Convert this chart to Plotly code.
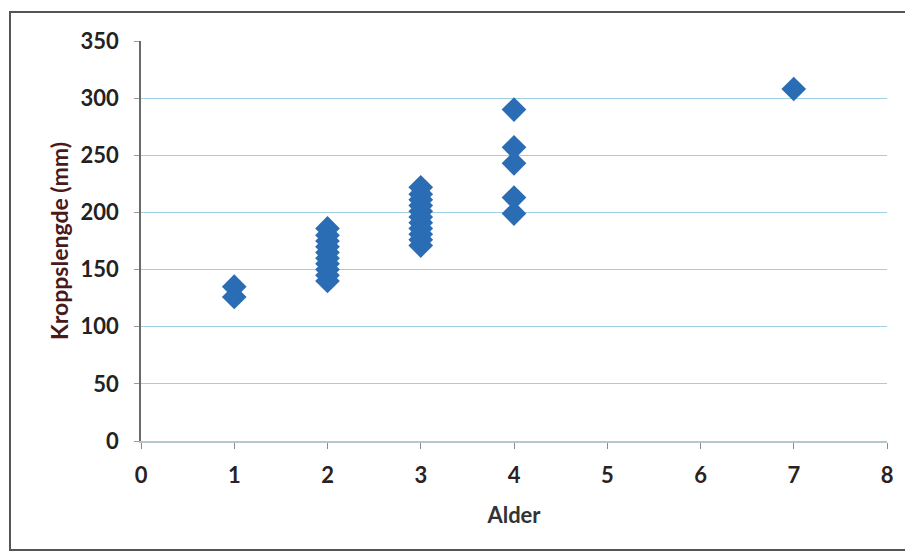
import plotly.graph_objects as go

# Alder (years) and Kroppslengde (mm)
alder = [1, 1,
         2, 2, 2, 2, 2, 2, 2, 2, 2, 2,
         3, 3, 3, 3, 3, 3, 3, 3, 3, 3, 3,
         4, 4, 4, 4, 4,
         7]
kroppslengde = [135, 126,
                140, 145, 150, 155, 160, 165, 170, 175, 180, 186,
                171, 176, 181, 186, 191, 196, 201, 206, 211, 216, 222,
                290, 257, 243, 213, 199,
                308]

x_ticks = [0, 1, 2, 3, 4, 5, 6, 7, 8]
y_ticks = [0, 50, 100, 150, 200, 250, 300, 350]

FONT = "Lato, 'Open Sans', sans-serif"

fig = go.Figure()

fig.add_trace(go.Scatter(
    x=alder,
    y=kroppslengde,
    mode="markers",
    marker=dict(symbol="diamond", size=19, color="#2A6DB5",
                line=dict(width=0)),
    showlegend=False,
))

fig.update_xaxes(
    range=[0, 8], tickvals=x_ticks, showgrid=False, zeroline=False,
    showline=True, linecolor="#b5c7cc", linewidth=1.5,
    ticks="outside", ticklen=6, tickcolor="#8a8a8a", ticklabelstandoff=8,
    tickfont=dict(family=FONT, size=22, color="#2a2222", weight="bold"),
    title=dict(text="<b>Alder</b>", font=dict(family=FONT, size=22, color="#333333"),
               standoff=20),
)
fig.update_yaxes(
    range=[0, 350], tickvals=y_ticks, showgrid=True, gridcolor="#9ECFE3",
    gridwidth=1.3, zeroline=False, showline=True, linecolor="#6a6a6a",
    linewidth=1.5, ticks="outside", ticklen=5, tickcolor="#9a9a9a",
    ticklabelstandoff=11,
    tickfont=dict(family=FONT, size=22, color="#222222", weight="bold"),
    title=dict(text="<b>Kroppslengde (mm)</b>",
               font=dict(family=FONT, size=23, color="#4a1a1a"), standoff=6),
)

# outer chart frame like the Excel chart border
fig.add_shape(type="rect", xref="paper", yref="paper",
              x0=-0.1756, x1=1.032, y0=-0.2725, y1=1.0725,
              line=dict(color="#555555", width=2), layer="below")

# page body adds an 8px offset, so the figure is trimmed by that much
fig.update_layout(
    width=905, height=550,
    margin=dict(l=133, r=26, t=33, b=117),
    paper_bgcolor="white", plot_bgcolor="white",
)

fig.write_html("out.html")
